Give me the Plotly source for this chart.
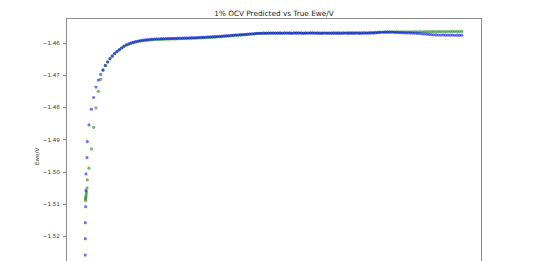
import plotly.graph_objects as go

# sample index along the curve (x axis carries no visible ticks in the reference)
sample_idx = list(range(161))

# leading, nearly vertical samples (fractional positions before index 0)
pred_head_x = [-1.59, -1.59, -1.59, -1.42, -1.29, -1.29, -0.86, -0.73]
pred_head_y = [-1.52575, -1.52068, -1.51571, -1.51075, -1.50571, -1.50059, -1.49553, -1.49056]
true_head_x = [-1.50, -1.42, -1.37, -1.29, -1.20, -1.07, -0.86, -0.73]
true_head_y = [-1.50882, -1.50835, -1.50789, -1.50742, -1.50680, -1.50618, -1.50494, -1.50245]

pred_y = [
    -1.48537, -1.48050, -1.47689, -1.47366, -1.47149, -1.46975, -1.46829, -1.46696, -1.46581, -1.46481,
    -1.46401, -1.46323, -1.46261, -1.46202, -1.46146, -1.46096, -1.46053, -1.46022, -1.45994, -1.45972,
    -1.45953, -1.45937, -1.45922, -1.45911, -1.45902, -1.45893, -1.45886, -1.45880, -1.45876, -1.45871,
    -1.45869, -1.45866, -1.45862, -1.45860, -1.45858, -1.45855, -1.45853, -1.45852, -1.45849, -1.45847,
    -1.45845, -1.45842, -1.45840, -1.45837, -1.45835, -1.45831, -1.45828, -1.45825, -1.45821, -1.45818,
    -1.45815, -1.45812, -1.45808, -1.45804, -1.45800, -1.45795, -1.45790, -1.45784, -1.45778, -1.45772,
    -1.45766, -1.45760, -1.45755, -1.45750, -1.45745, -1.45740, -1.45735, -1.45730, -1.45724, -1.45718,
    -1.45712, -1.45706, -1.45702, -1.45700, -1.45698, -1.45694, -1.45697, -1.45693, -1.45696, -1.45692,
    -1.45695, -1.45691, -1.45694, -1.45697, -1.45693, -1.45690, -1.45695, -1.45698, -1.45693, -1.45696,
    -1.45692, -1.45695, -1.45699, -1.45694, -1.45691, -1.45696, -1.45693, -1.45697, -1.45694, -1.45698,
    -1.45701, -1.45697, -1.45700, -1.45703, -1.45699, -1.45702, -1.45698, -1.45701, -1.45704, -1.45700,
    -1.45697, -1.45702, -1.45699, -1.45703, -1.45700, -1.45697, -1.45701, -1.45698, -1.45695, -1.45699,
    -1.45696, -1.45693, -1.45690, -1.45686, -1.45680, -1.45672, -1.45666, -1.45663, -1.45661, -1.45664,
    -1.45662, -1.45667, -1.45670, -1.45675, -1.45679, -1.45683, -1.45686, -1.45688, -1.45690, -1.45693,
    -1.45697, -1.45702, -1.45708, -1.45714, -1.45720, -1.45727, -1.45733, -1.45739, -1.45744, -1.45748,
    -1.45751, -1.45754, -1.45750, -1.45756, -1.45753, -1.45758, -1.45755, -1.45759, -1.45756, -1.45760, -1.45757,
]

true_y = [
    -1.49882, -1.49283, -1.48615, -1.48009, -1.47497, -1.47130, -1.46851, -1.46700, -1.46590, -1.46490,
    -1.46410, -1.46333, -1.46271, -1.46213, -1.46158, -1.46110, -1.46068, -1.46040, -1.46014, -1.45993,
    -1.45975, -1.45958, -1.45944, -1.45933, -1.45924, -1.45915, -1.45908, -1.45902, -1.45897, -1.45893,
    -1.45890, -1.45887, -1.45884, -1.45881, -1.45879, -1.45876, -1.45874, -1.45872, -1.45870, -1.45868,
    -1.45866, -1.45863, -1.45861, -1.45858, -1.45855, -1.45852, -1.45849, -1.45845, -1.45842, -1.45838,
    -1.45835, -1.45831, -1.45827, -1.45823, -1.45818, -1.45813, -1.45808, -1.45802, -1.45796, -1.45790,
    -1.45784, -1.45778, -1.45772, -1.45766, -1.45760, -1.45754, -1.45748, -1.45742, -1.45735, -1.45728,
    -1.45721, -1.45714, -1.45707, -1.45702, -1.45699, -1.45696, -1.45692, -1.45695, -1.45690, -1.45693,
    -1.45689, -1.45692, -1.45688, -1.45691, -1.45687, -1.45690, -1.45686, -1.45689, -1.45685, -1.45688,
    -1.45684, -1.45687, -1.45690, -1.45686, -1.45689, -1.45685, -1.45688, -1.45684, -1.45687, -1.45683,
    -1.45686, -1.45682, -1.45685, -1.45681, -1.45684, -1.45680, -1.45683, -1.45679, -1.45682, -1.45678,
    -1.45681, -1.45677, -1.45680, -1.45676, -1.45679, -1.45675, -1.45678, -1.45674, -1.45677, -1.45673,
    -1.45676, -1.45672, -1.45669, -1.45666, -1.45663, -1.45660, -1.45658, -1.45656, -1.45655, -1.45657,
    -1.45654, -1.45656, -1.45653, -1.45655, -1.45652, -1.45654, -1.45651, -1.45653, -1.45650, -1.45652,
    -1.45649, -1.45651, -1.45648, -1.45650, -1.45647, -1.45649, -1.45646, -1.45648, -1.45645, -1.45647,
    -1.45644, -1.45646, -1.45643, -1.45645, -1.45642, -1.45644, -1.45641, -1.45643, -1.45640, -1.45642, -1.45640,
]

title_text = "1% OCV Predicted vs True Ewe/V"
y_label = "Ewe/V"
y_ticks = [-1.52, -1.51, -1.50, -1.49, -1.48, -1.47, -1.46]
y_tick_text = ["\u22121.52", "\u22121.51", "\u22121.50", "\u22121.49", "\u22121.48", "\u22121.47", "\u22121.46"]

W, H = 533, 261
L, R, T, B = 67, 481, 19, 261

fig = go.Figure()
fig.add_trace(go.Scatter(
    x=true_head_x + sample_idx, y=true_head_y + true_y, mode="markers", name="True",
    marker=dict(size=3.2, color="rgba(0,128,0,0.55)", line=dict(width=0)),
))
fig.add_trace(go.Scatter(
    x=pred_head_x + sample_idx, y=pred_head_y + pred_y, mode="markers", name="Predicted",
    marker=dict(size=3.2, color="rgba(0,0,255,0.55)", line=dict(width=0)),
))

spine = "#8a8a8a"
fig.update_layout(
    width=W, height=H,
    margin=dict(l=L, r=W - R, t=T, b=H - B, pad=0),
    paper_bgcolor="white", plot_bgcolor="white",
    showlegend=False,
    font=dict(family="DejaVu Sans", color="#333333"),
    title=dict(text=title_text, x=(L + R) / 2 / W, xanchor="center",
               y=1 - 13 / H, yanchor="middle", yref="container",
               font=dict(size=7.3, color="#222222")),
    xaxis=dict(range=[-9.44, 168.24], side="top", showline=True, linecolor=spine, linewidth=1,
               showgrid=False, zeroline=False, showticklabels=False, ticks=""),
    yaxis=dict(range=[-1.5276, -1.45255], showline=True, mirror=True, linecolor=spine, linewidth=1,
               showgrid=False, zeroline=False, tickmode="array", tickvals=y_ticks, ticktext=y_tick_text,
               ticks="outside", ticklen=3, tickcolor=spine, tickwidth=1,
               tickfont=dict(size=5.6, color="#333333"), ticklabelstandoff=2),
    annotations=[dict(text=y_label, xref="paper", yref="paper",
                      x=(37 - L) / (R - L), y=(B - 157) / (B - T),
                      xanchor="center", yanchor="middle", textangle=-90, showarrow=False,
                      font=dict(size=5.6, color="#333333"))],
)

fig.write_html("out.html")
